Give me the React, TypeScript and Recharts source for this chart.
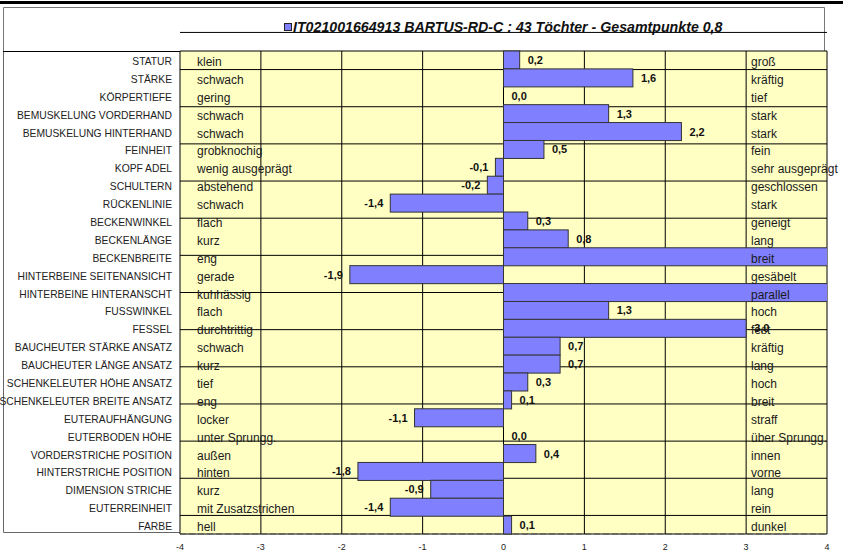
import { Bar, BarChart, CartesianGrid, ReferenceLine, XAxis, YAxis } from "recharts";

const traits = [
  "STATUR",
  "STÄRKE",
  "KÖRPERTIEFE",
  "BEMUSKELUNG VORDERHAND",
  "BEMUSKELUNG HINTERHAND",
  "FEINHEIT",
  "KOPF ADEL",
  "SCHULTERN",
  "RÜCKENLINIE",
  "BECKENWINKEL",
  "BECKENLÄNGE",
  "BECKENBREITE",
  "HINTERBEINE SEITENANSICHT",
  "HINTERBEINE HINTERANSCHT",
  "FUSSWINKEL",
  "FESSEL",
  "BAUCHEUTER STÄRKE ANSATZ",
  "BAUCHEUTER LÄNGE ANSATZ",
  "SCHENKELEUTER HÖHE ANSATZ",
  "SCHENKELEUTER BREITE ANSATZ",
  "EUTERAUFHÄNGUNG",
  "EUTERBODEN HÖHE",
  "VORDERSTRICHE POSITION",
  "HINTERSTRICHE POSITION",
  "DIMENSION STRICHE",
  "EUTERREINHEIT",
  "FARBE",
];

const lowLabels = [
  "klein", "schwach", "gering", "schwach", "schwach", "grobknochig", "wenig ausgeprägt",
  "abstehend", "schwach", "flach", "kurz", "eng", "gerade", "kuhhässig", "flach",
  "durchtrittig", "schwach", "kurz", "tief", "eng", "locker", "unter Sprungg.",
  "außen", "hinten", "kurz", "mit Zusatzstrichen", "hell",
];

const highLabels = [
  "groß", "kräftig", "tief", "stark", "stark", "fein", "sehr ausgeprägt",
  "geschlossen", "stark", "geneigt", "lang", "breit", "gesäbelt", "parallel", "hoch",
  "fest", "kräftig", "lang", "hoch", "breit", "straff", "über Sprungg.",
  "innen", "vorne", "lang", "rein", "dunkel",
];

// two bars run off the right edge, their labels are not visible
const values = [
  0.2, 1.6, 0.0, 1.3, 2.2, 0.5, -0.1, -0.2, -1.4, 0.3, 0.8, 4.5, -1.9, 4.5, 1.3,
  3.0, 0.7, 0.7, 0.3, 0.1, -1.1, 0.0, 0.4, -1.8, -0.9, -1.4, 0.1,
];

const xTicks = [-4, -3, -2, -1, 0, 1, 2, 3, 4];
const rowLines = [1, 2, 3, 4, 5, 6, 7, 8, 9, 10, 11, 12, 13, 14, 15, 16, 17, 18, 19, 20, 21, 22, 23, 24, 25, 26, 27];

const TITLE = "IT021001664913 BARTUS-RD-C : 43 Töchter - Gesamtpunkte 0,8";

const data = traits.map((name, i) => ({
  name,
  low: lowLabels[i],
  high: highLabels[i],
  value: values[i],
}));

const FONT = "'Liberation Sans', Arial, sans-serif";
const fmt = (v: number) => v.toFixed(1).replace(".", ",");

function TraitTick(props: any) {
  const { x, y, payload } = props;
  const idx = traits.indexOf(payload.value);
  const row = data[idx];
  if (!row) return null;
  return (
    <g fontFamily={FONT}>
      <text x={x} y={y} dy={5} textAnchor="end" fontSize={10.3} fill="#222">
        {row.name}
      </text>
      <text x={x + 25} y={y} dy={6} textAnchor="start" fontSize={12} fill="#1a1a1a">
        {row.low}
      </text>
      <text x={x + 579} y={y} dy={6} textAnchor="start" fontSize={12} fill="#1a1a1a">
        {row.high}
      </text>
    </g>
  );
}

function ValueBar(props: any) {
  const { x, y, width, height, payload } = props;
  const v: number = payload.value;
  const left = Math.min(x, x + width);
  const w = Math.abs(width);
  const end = v >= 0 ? left + w : left;
  return (
    <g>
      {w > 0 && (
        <rect x={left} y={y} width={w} height={height} fill="#8080FF" stroke="#333" strokeWidth={1} />
      )}
      {v <= 4 && (
        <text
          x={v >= 0 ? end + 8 : end - 7}
          y={y + height / 2}
          dy={4}
          textAnchor={v >= 0 ? "start" : "end"}
          fontSize={11}
          fontWeight="bold"
          fontFamily={FONT}
          fill="#111"
        >
          {fmt(v)}
        </text>
      )}
    </g>
  );
}

export default function App() {
  return (
    <div style={{ position: "absolute", left: 0, top: 0, width: 843, height: 554, background: "#fff" }}>
      <svg width={843} height={554} style={{ position: "absolute", left: 0, top: 0 }}>
        <rect x={0} y={1} width={843} height={3} fill="#000" />
        <path d="M3.5 51 V7.5 H824.5 V51" fill="none" stroke="#777" />
        <path d="M3.5 51 V532.5 H180" fill="none" stroke="#666" />
        <line x1={3} y1={51.5} x2={180} y2={51.5} stroke="#000" />
        <rect x={284.5} y={23.5} width={7} height={7} fill="#8080FF" stroke="#222" />
        <text
          x={293}
          y={32}
          fontFamily={FONT}
          fontWeight="bold"
          fontStyle="italic"
          fontSize={14.2}
          fill="#111"
        >
          {TITLE}
        </text>
      </svg>
      <div style={{ position: "absolute", left: 0, top: 0 }}>
        <BarChart
          width={843}
          height={554}
          data={data}
          layout="vertical"
          barCategoryGap={0}
          margin={{ top: 51, right: 16, bottom: 0, left: 0 }}
        >
          <CartesianGrid yAxisId="rows" stroke="#000" fill="#FFFFC4" />
          <XAxis
            type="number"
            domain={[-4, 4]}
            ticks={xTicks}
            allowDataOverflow
            axisLine={false}
            tickLine={false}
            tickSize={0}
            tickMargin={10}
            height={20}
            tick={{ fontSize: 9, fill: "#222", fontFamily: FONT }}
          />
          <YAxis
            yAxisId="rows"
            type="number"
            domain={[0, 27]}
            ticks={rowLines}
            allowDataOverflow
            reversed
            hide
          />
          <Bar
            yAxisId="cat"
            dataKey="value"
            shape={<ValueBar />}
            isAnimationActive={false}
          />
          <ReferenceLine yAxisId="rows" y={0} stroke="#555" strokeDasharray="6 3" />
          <YAxis
            yAxisId="cat"
            type="category"
            dataKey="name"
            width={180}
            interval={0}
            axisLine={false}
            tickLine={false}
            tickSize={0}
            tickMargin={8}
            tick={<TraitTick />}
          />
        </BarChart>
      </div>
    </div>
  );
}
